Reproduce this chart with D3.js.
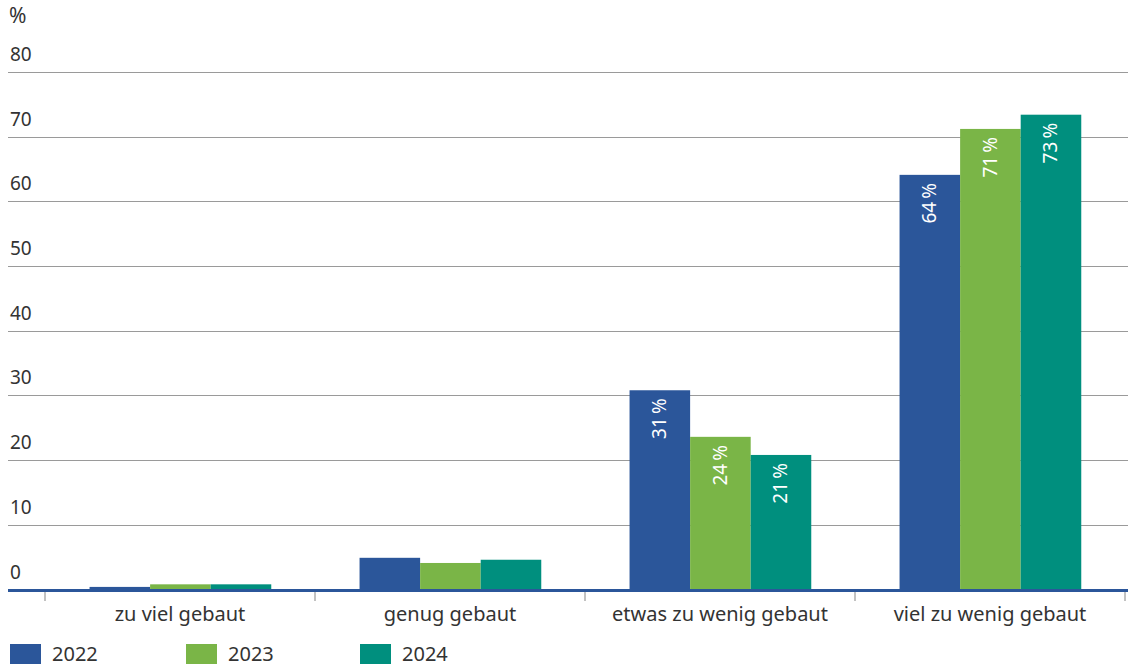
<!DOCTYPE html>
<html><head><meta charset="utf-8">
<script src="https://cdn.jsdelivr.net/npm/d3@7"></script>
<style>body{margin:0;background:#fff}svg{display:block}text{font-family:"Noto Sans",sans-serif}</style>
</head><body><svg id="c" width="1128" height="668"></svg>
<script>
const categories = ["zu viel gebaut","genug gebaut","etwas zu wenig gebaut","viel zu wenig gebaut"];
const series = ["2022","2023","2024"];
const values2022 = [0.4, 4.9, 30.8, 64.1];
const values2023 = [0.8, 4.1, 23.6, 71.2];
const values2024 = [0.8, 4.6, 20.8, 73.4];
const labels2022 = [null, null, "31", "64"];
const labels2023 = [null, null, "24", "71"];
const labels2024 = [null, null, "21", "73"];
const yTicks = [0,10,20,30,40,50,60,70,80];
const colors = ["#2b569a","#7ab547","#008f7e"];

const allValues = [values2022, values2023, values2024];
const allLabels = [labels2022, labels2023, labels2024];

const svg = d3.select("#c");
const y = d3.scaleLinear().domain([0,80]).range([589.5,72]);
const x0 = d3.scaleBand().domain(categories).range([45,1125]).padding(0);
const bw = x0.bandwidth();
const x1 = d3.scaleBand().domain(series).range([bw*0.165, bw*(1-0.162)]).padding(0);

// gridlines
svg.append("g").selectAll("line").data(yTicks.filter(d=>d>0)).join("line")
  .attr("x1",8).attr("x2",1128).attr("y1",d=>Math.round(y(d))+0.5).attr("y2",d=>Math.round(y(d))+0.5)
  .attr("stroke","#9a9a9a").attr("stroke-width",1.2);
// y labels
svg.append("g").selectAll("text").data(yTicks).join("text")
  .attr("x",10).attr("y",d=>y(d)-11).attr("font-size",19).attr("fill","#333").text(d=>d);
svg.append("text").attr("x",9).attr("y",23).attr("font-size",21).attr("fill","#333").text("%");

// bars
const groups = svg.append("g").selectAll("g").data(categories).join("g")
  .attr("transform",c=>`translate(${x0(c)},0)`);
groups.each(function(c,i){
  const g = d3.select(this);
  series.forEach((s,j)=>{
    const v = allValues[j][i];
    g.append("rect").attr("x",x1(s)).attr("width",x1.bandwidth()).attr("y",y(v)).attr("height",y(0)-y(v)).attr("fill",colors[j]);
    const lab = allLabels[j][i];
    if(lab){
      const cx = x1(s)+x1.bandwidth()/2;
      const ty = y(v)+8;
      g.append("text").attr("transform",`translate(${cx+6.5},${ty}) rotate(-90)`)
        .attr("text-anchor","end").attr("font-size",19).attr("fill","#fff").text(lab+"\u2009%");
    }
  });
});

// axis line
svg.append("line").attr("x1",8).attr("x2",1128).attr("y1",590.5).attr("y2",590.5).attr("stroke","#2b569a").attr("stroke-width",3);
// ticks at band boundaries
const bounds = categories.map(c=>x0(c)).concat([x0(categories[categories.length-1])+bw]);
svg.append("g").selectAll("line").data(bounds).join("line")
  .attr("x1",d=>d).attr("x2",d=>d).attr("y1",592).attr("y2",601).attr("stroke","#999").attr("stroke-width",1.2);
// category labels
svg.append("g").selectAll("text").data(categories).join("text")
  .attr("x",c=>x0(c)+bw/2).attr("y",621).attr("text-anchor","middle").attr("font-size",20).attr("fill","#333").text(c=>c);

// legend
const legX = [10,186,360];
series.forEach((s,j)=>{
  svg.append("rect").attr("x",legX[j]).attr("y",644).attr("width",31).attr("height",20).attr("fill",colors[j]);
  svg.append("text").attr("x",legX[j]+42).attr("y",661).attr("font-size",20).attr("fill","#333").text(s);
});
</script></body></html>
